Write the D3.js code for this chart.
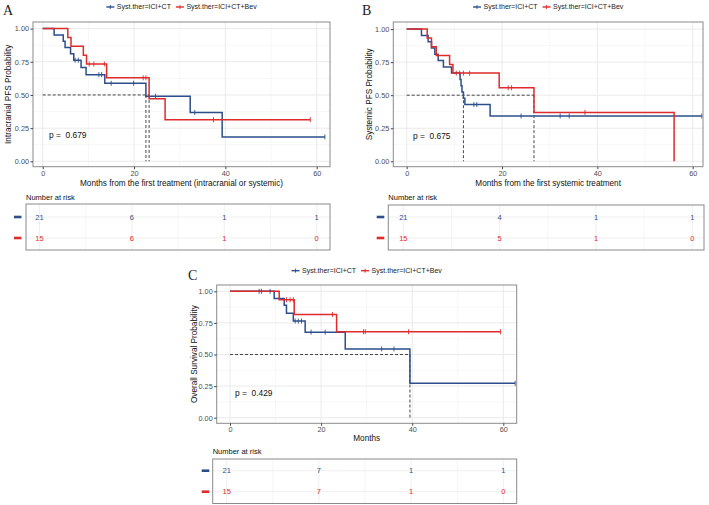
<!DOCTYPE html>
<html>
<head>
<meta charset="utf-8">
<script src="https://cdn.jsdelivr.net/npm/d3@7"></script>
<style>
  html, body { margin: 0; padding: 0; background: #fff; }
  svg { display: block; }
</style>
</head>
<body>
<svg id="chart" width="709" height="505"></svg>
<script>
// ---------------- DATA ----------------
const groups = ["Syst.ther=ICI+CT", "Syst.ther=ICI+CT+Bev"];
const timeTicks = [0, 20, 40, 60];
const probTicks = [0, 0.25, 0.5, 0.75, 1];
const probTickLabels = ["0.00", "0.25", "0.50", "0.75", "1.00"];
const panelLetters = ["A", "B", "C"];
const yTitles = ["Intracranial PFS Probability", "Systemic PFS Probability", "Overall Survival Probability"];
const xTitles = ["Months from the first treatment (intracranial or systemic)", "Months from the first systemic treatment", "Months"];
const pValues = ["0.679", "0.675", "0.429"];

// Panel A: intracranial PFS  [time, survival]
const stepsA_CT  = [[0,1],[2.5,0.952],[4.5,0.905],[4.9,0.857],[6.1,0.810],[6.8,0.762],[8.4,0.707],[9.5,0.653],[13.6,0.588],[22.6,0.490],[32.3,0.368],[39.3,0.184],[61.8,0.184]];
const censA_CT   = [7.1, 7.8, 12.3, 12.9, 15.0, 19.9, 24.7, 33.3, 61.8];
const stepsA_Bev = [[0,1],[5.5,0.933],[6.2,0.867],[8.9,0.800],[9.6,0.733],[14.0,0.629],[23.3,0.471],[26.8,0.314],[58.6,0.314]];
const censA_Bev  = [10.2, 11.2, 13.5, 22.0, 22.6, 37.4, 58.6];
const mediansA   = [22.6, 23.3];
const riskA_CT   = [21, 6, 1, 1];
const riskA_Bev  = [15, 6, 1, 0];

// Panel B: systemic PFS
const stepsB_CT  = [[0,1],[3.1,0.952],[4.5,0.905],[5.2,0.857],[5.9,0.810],[6.6,0.762],[7.7,0.714],[9.4,0.667],[11.2,0.619],[11.4,0.571],[11.6,0.524],[11.9,0.476],[12.2,0.429],[17.5,0.343],[61.9,0.343]];
const censB_CT   = [14.1, 14.7, 24.0, 32.2, 34.1, 61.9];
const stepsB_Bev = [[0,1],[4.3,0.933],[5.2,0.867],[6.2,0.800],[9.0,0.733],[9.7,0.667],[19.4,0.556],[26.7,0.370],[56.1,0.0]];
const censB_Bev  = [10.4, 11.1, 11.9, 13.2, 21.3, 22.0, 37.4];
const mediansB   = [11.9, 26.7];
const riskB_CT   = [21, 4, 1, 1];
const riskB_Bev  = [15, 5, 1, 0];

// Panel C: overall survival
const stepsC_CT  = [[0,1],[9.7,0.944],[11.9,0.889],[12.4,0.826],[13.9,0.765],[16.5,0.677],[25.3,0.544],[39.5,0.272],[62.6,0.272]];
const censC_CT   = [6.4, 6.9, 8.8, 14.3, 15.0, 15.7, 17.8, 20.9, 33.3, 36.0, 62.6];
const stepsC_Bev = [[0,1],[10.8,0.933],[14.1,0.816],[23.4,0.680],[59.4,0.680]];
const censC_Bev  = [12.4, 13.2, 13.9, 22.5, 29.3, 29.7, 39.2, 59.4];
const mediansC   = [39.5];
const riskC_CT   = [21, 7, 1, 1];
const riskC_Bev  = [15, 7, 1, 0];

// ---------------- STYLE / LAYOUT ----------------
const COLORS = ["#2C4F8C", "#DE2B2B"];
const SANS = "'Liberation Sans', Arial, Helvetica, sans-serif";
const SERIF = "'Liberation Serif', 'Times New Roman', serif";

const layouts = [
  { box:[33,22,330,166.7], xr:[42.7,316.7], yr:[161.3,28.6], legendY:7, letter:[3,15], yTitleX:8,
    pPos:[49,135], xTickY:173.5, xTitleY:183,
    nar:[26,197.3], tbox:[26,204,330,250], txr:[39.5,316.7], rows:[217,238], mark:[14,21.5] },
  { box:[393.3,22,703,166.7], xr:[406.7,692.7], yr:[161.3,29.1], legendY:7, letter:[362,15], yTitleX:369,
    pPos:[413,136], xTickY:173.5, xTitleY:183,
    nar:[388.3,197.3], tbox:[388.3,205,704,250], txr:[403.3,692.3], rows:[217,238], mark:[376.7,384.3] },
  { box:[216.7,285,516.7,423.3], xr:[230,503.3], yr:[417.7,291.3], legendY:270.7, letter:[188,280], yTitleX:194,
    pPos:[235,393.3], xTickY:430, xTitleY:438.3,
    nar:[212.7,451.7], tbox:[212.7,459,516.7,503.5], txr:[226.7,503.3], rows:[470.7,491.7], mark:[201.7,209.3] }
];

const panelsData = [
  { steps:[stepsA_CT, stepsA_Bev], cens:[censA_CT, censA_Bev], medians:mediansA, risk:[riskA_CT, riskA_Bev] },
  { steps:[stepsB_CT, stepsB_Bev], cens:[censB_CT, censB_Bev], medians:mediansB, risk:[riskB_CT, riskB_Bev] },
  { steps:[stepsC_CT, stepsC_Bev], cens:[censC_CT, censC_Bev], medians:mediansC, risk:[riskC_CT, riskC_Bev] }
];

const svg = d3.select("#chart");

// survival at time t from a step list
function survAt(steps, t) {
  let s = steps[0][1];
  for (const [tt, ss] of steps) { if (tt <= t) s = ss; else break; }
  return s;
}

function drawPanel(i) {
  const L = layouts[i], D = panelsData[i];
  const g = svg.append("g");
  const [bx0, by0, bx1, by1] = L.box;
  const x = d3.scaleLinear().domain([0, 60]).range(L.xr);
  const y = d3.scaleLinear().domain([0, 1]).range(L.yr);

  // background grid
  const grid = g.append("g");
  [10, 30, 50].forEach(t => grid.append("line").attr("x1", x(t)).attr("x2", x(t)).attr("y1", by0).attr("y2", by1)
      .attr("stroke", "#f2f2f2").attr("stroke-width", 0.6));
  [0.125, 0.375, 0.625, 0.875].forEach(p => grid.append("line").attr("x1", bx0).attr("x2", bx1).attr("y1", y(p)).attr("y2", y(p))
      .attr("stroke", "#f2f2f2").attr("stroke-width", 0.6));
  timeTicks.forEach(t => grid.append("line").attr("x1", x(t)).attr("x2", x(t)).attr("y1", by0).attr("y2", by1)
      .attr("stroke", "#e8e8e8").attr("stroke-width", 0.9));
  probTicks.forEach(p => grid.append("line").attr("x1", bx0).attr("x2", bx1).attr("y1", y(p)).attr("y2", y(p))
      .attr("stroke", "#e8e8e8").attr("stroke-width", 0.9));

  // median lines
  const maxMed = d3.max(D.medians);
  g.append("line").attr("x1", x(0)).attr("x2", x(maxMed)).attr("y1", y(0.5)).attr("y2", y(0.5))
    .attr("stroke", "#333").attr("stroke-width", 0.9).attr("stroke-dasharray", "3,2");
  D.medians.forEach(m => g.append("line").attr("x1", x(m)).attr("x2", x(m)).attr("y1", y(0.5)).attr("y2", y(0))
    .attr("stroke", "#333").attr("stroke-width", 0.9).attr("stroke-dasharray", "3,2"));

  // survival curves
  const line = d3.line().x(d => x(d[0])).y(d => y(d[1])).curve(d3.curveStepAfter);
  D.steps.forEach((st, k) => {
    g.append("path").attr("d", line(st)).attr("fill", "none").attr("stroke", COLORS[k]).attr("stroke-width", 1.5);
  });
  // censor marks
  D.cens.forEach((cs, k) => {
    cs.forEach(t => {
      const s = survAt(D.steps[k], t);
      g.append("line").attr("x1", x(t)).attr("x2", x(t)).attr("y1", y(s) - 2.5).attr("y2", y(s) + 2.5)
        .attr("stroke", COLORS[k]).attr("stroke-width", 0.9);
    });
  });

  // panel border
  g.append("rect").attr("x", bx0).attr("y", by0).attr("width", bx1 - bx0).attr("height", by1 - by0)
    .attr("fill", "none").attr("stroke", "#8a8a8a").attr("stroke-width", 1);

  // y axis
  const ya = g.append("g").attr("transform", `translate(${bx0},0)`)
    .call(d3.axisLeft(y).tickValues(probTicks).tickFormat((d, j) => probTickLabels[j]).tickSize(2.5).tickPadding(1.5));
  ya.select(".domain").remove();
  ya.selectAll("line").attr("stroke", "#444");
  ya.selectAll("text").attr("font-family", SANS).attr("font-size", "7.3px").attr("fill", "#4d4d4d");

  // x axis
  const xa = g.append("g").attr("transform", `translate(0,${by1})`)
    .call(d3.axisBottom(x).tickValues(timeTicks).tickFormat(d3.format("d")).tickSize(2.5).tickPadding(1.5));
  xa.select(".domain").remove();
  xa.selectAll("line").attr("stroke", "#444");
  xa.selectAll("text").attr("font-family", SANS).attr("font-size", "7.3px").attr("fill", "#4d4d4d");

  // axis titles
  g.append("text").attr("x", (bx0 + bx1) / 2).attr("y", L.xTitleY).attr("dy", "0.35em")
    .attr("text-anchor", "middle").attr("font-family", SANS).attr("font-size", "8.2px").attr("fill", "#111")
    .text(xTitles[i]);
  g.append("text").attr("transform", `translate(${L.yTitleX},${(by0 + by1) / 2}) rotate(-90)`).attr("dy", "0.35em")
    .attr("text-anchor", "middle").attr("font-family", SANS).attr("font-size", "8.2px").attr("fill", "#111")
    .text(yTitles[i]);

  // p value
  g.append("text").attr("x", L.pPos[0]).attr("y", L.pPos[1]).attr("dy", "0.35em")
    .attr("font-family", SANS).attr("font-size", "8.4px").attr("fill", "#111").attr("xml:space", "preserve")
    .text("p =  " + pValues[i]);

  // panel letter
  g.append("text").attr("x", L.letter[0]).attr("y", L.letter[1]).attr("font-family", SERIF)
    .attr("font-size", "14px").attr("fill", "#222").text(panelLetters[i]);

  // legend (centred over plot box)
  const lg = g.append("g");
  let cx = 0;
  const items = [];
  groups.forEach((name, k) => {
    const it = lg.append("g").attr("transform", `translate(${cx},0)`);
    it.append("line").attr("x1", 0).attr("x2", 8).attr("y1", 0).attr("y2", 0).attr("stroke", COLORS[k]).attr("stroke-width", 1.4);
    it.append("line").attr("x1", 4).attr("x2", 4).attr("y1", -2).attr("y2", 2).attr("stroke", COLORS[k]).attr("stroke-width", 0.9);
    const tx = it.append("text").attr("x", 10.5).attr("y", 0).attr("dy", "0.35em")
      .attr("font-family", SANS).attr("font-size", "7px").attr("fill", "#222").text(name);
    const w = 10.5 + tx.node().getComputedTextLength();
    cx += w + 5;
  });
  const legendW = cx - 5;
  lg.attr("transform", `translate(${(bx0 + bx1) / 2 - legendW / 2},${L.legendY})`);

  // risk table
  const [tx0, ty0, tx1, ty1] = L.tbox;
  const tx = d3.scaleLinear().domain([0, 60]).range(L.txr);
  g.append("text").attr("x", L.nar[0]).attr("y", L.nar[1]).attr("dy", "0.35em")
    .attr("font-family", SANS).attr("font-size", "7.5px").attr("fill", "#111").text("Number at risk");
  const tg = g.append("g");
  [10, 30, 50].forEach(t => tg.append("line").attr("x1", tx(t)).attr("x2", tx(t)).attr("y1", ty0).attr("y2", ty1)
    .attr("stroke", "#f0f0f0").attr("stroke-width", 0.7));
  timeTicks.forEach(t => tg.append("line").attr("x1", tx(t)).attr("x2", tx(t)).attr("y1", ty0).attr("y2", ty1)
    .attr("stroke", "#ececec").attr("stroke-width", 0.8));
  L.rows.forEach(ry => tg.append("line").attr("x1", tx0).attr("x2", tx1).attr("y1", ry).attr("y2", ry)
    .attr("stroke", "#ececec").attr("stroke-width", 0.8));
  tg.append("rect").attr("x", tx0).attr("y", ty0).attr("width", tx1 - tx0).attr("height", ty1 - ty0)
    .attr("fill", "none").attr("stroke", "#8a8a8a").attr("stroke-width", 1);
  D.risk.forEach((vals, k) => {
    const ry = L.rows[k];
    g.append("line").attr("x1", L.mark[0]).attr("x2", L.mark[1]).attr("y1", ry).attr("y2", ry)
      .attr("stroke", COLORS[k]).attr("stroke-width", 2.6);
    vals.forEach((v, j) => {
      g.append("text").attr("x", tx(timeTicks[j])).attr("y", ry).attr("dy", "0.35em")
        .attr("text-anchor", "middle").attr("font-family", SANS).attr("font-size", "7.5px")
        .attr("fill", COLORS[k]).text(v);
    });
  });
}

[0, 1, 2].forEach(drawPanel);
</script>
</body>
</html>
